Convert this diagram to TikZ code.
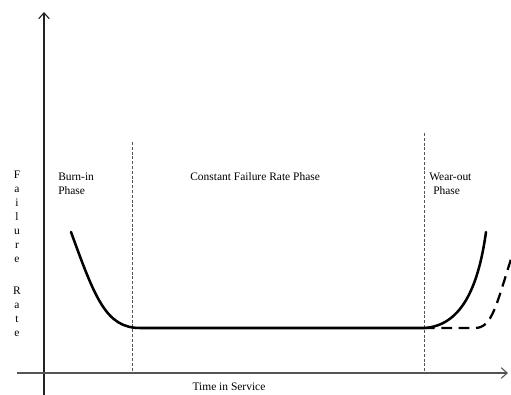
\documentclass[tikz,border=0pt]{standalone}
\usepackage{fontspec}
\setmainfont{Liberation Serif}
\usetikzlibrary{arrows.meta}
\definecolor{AxisInk}{HTML}{222222}
\definecolor{PhaseInk}{HTML}{555555}

\tikzset{
  axis/.style={draw=AxisInk, line width=0.8pt,
    -{Straight Barb[length=4.5pt,width=8pt,line width=0.8pt]}},
  phaseline/.style={draw=PhaseInk, line width=0.5pt, dash pattern=on 2.2pt off 1.4pt},
  ratecurve/.style={draw=black, line width=1.9pt, line cap=round},
  lbl/.style={inner sep=0pt, font=\fontsize{8.6}{10.5}\selectfont, align=left}
}

\begin{document}
\begin{tikzpicture}[x=0.75pt,y=-0.75pt]
    \useasboundingbox (0,0) rectangle (511,395);

    % axes
    \coordinate (ybot) at (44,395);
    \coordinate (ytop) at (44,12);
    \coordinate (xbeg) at (17,373);
    \coordinate (xend) at (508,373);
    \draw[axis] (ybot) -- (ytop);
    \draw[axis, draw=PhaseInk] (xbeg) -- (xend);

    % phase borders
    \coordinate (burnTop) at (132,142);
    \coordinate (burnBot) at (132,373);
    \coordinate (wearTop) at (424,133);
    \coordinate (wearBot) at (424,373);
    \draw[phaseline] (burnTop) -- (burnBot);
    \draw[phaseline] (wearTop) -- (wearBot);

    % bathtub curve
    \coordinate (burnStart) at (71,232);
    \coordinate (flatStart) at (140,328);
    \coordinate (flatEnd) at (424,328);
    \coordinate (wearEnd) at (486,232);
    \draw[ratecurve] (burnStart) .. controls (95,298) and (106,328) .. (flatStart)
      -- (flatEnd) .. controls (460,326) and (478,290) .. (wearEnd);
    \coordinate (altKnee) at (475,328);
    \coordinate (altEnd) at (512,256);
    \draw[ratecurve, line cap=butt, line width=1.7pt, dash pattern=on 8pt off 5pt]
      (flatEnd) -- (altKnee) .. controls (492,328) and (496,306) .. (altEnd);

    % labels
    \node[lbl, anchor=north west] (burnLbl) at (58,173) {Burn-in\\Phase};
    \node[lbl, anchor=base west] (constLbl) at (190,181) {Constant Failure Rate Phase};
    \node[lbl, anchor=north west] (wearLbl) at (429,173) {Wear-out\\\hspace*{3pt}Phase};
    \node[lbl, anchor=base] (timeLbl) at (229,391) {Time in Service};
    \node[lbl, align=center, anchor=north, font=\fontsize{8.6}{10.5}\selectfont]
      (rateLbl) at (17,171) {F\\a\\i\\l\\u\\r\\e\\[13.5pt]R\\a\\t\\e};
\end{tikzpicture}
\end{document}
